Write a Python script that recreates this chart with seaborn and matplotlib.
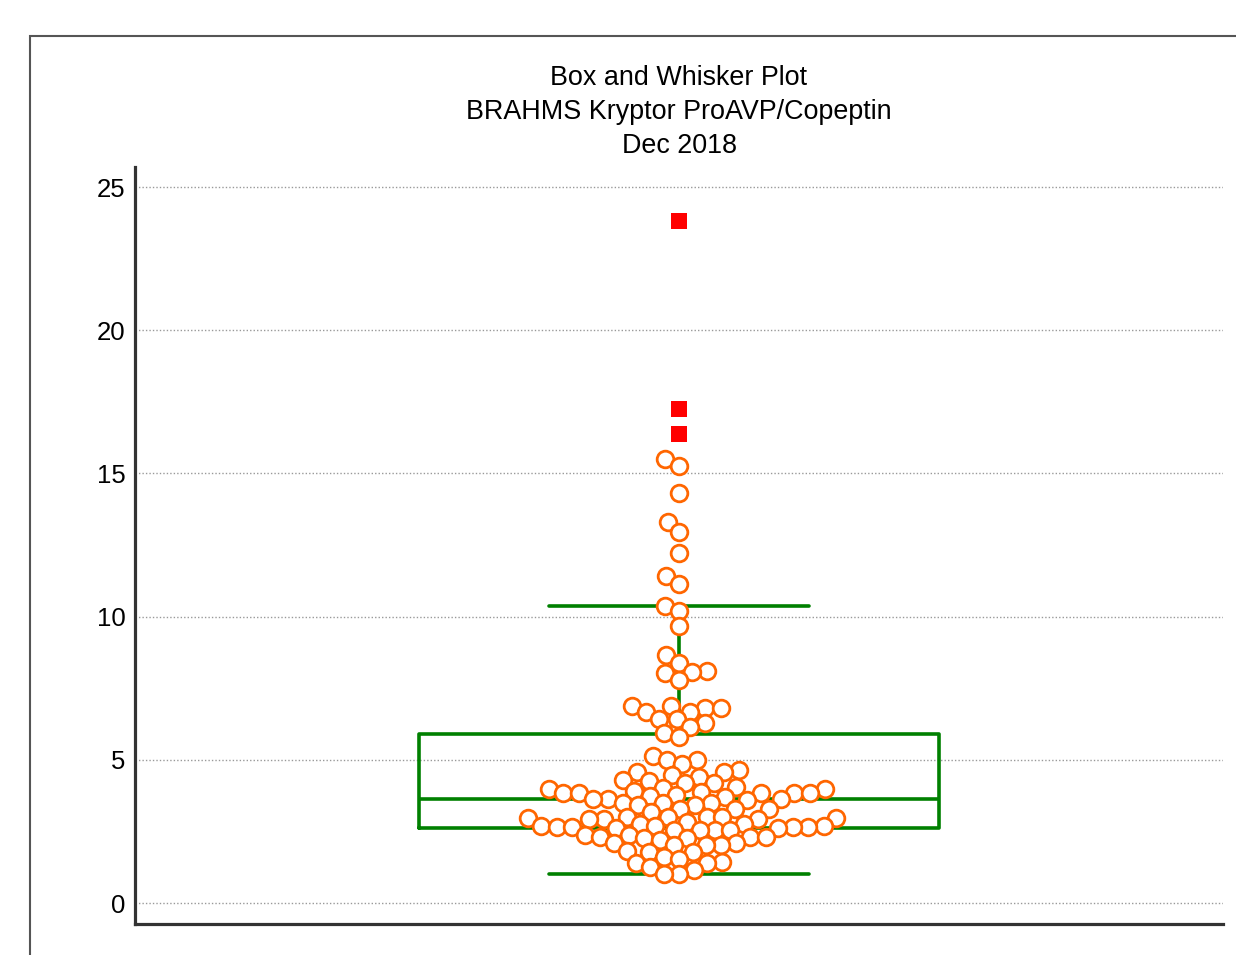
import pandas as pd
import seaborn as sns
from matplotlib import pyplot as plt
from matplotlib.patches import Rectangle

# values (swarm points)
high_values = [15.50, 15.26, 14.32, 13.30, 12.95, 12.22, 11.42, 11.14, 10.37, 10.20,
               9.67, 8.66, 8.38, 8.10, 8.07, 8.03, 7.79]
upper_values = [6.88, 6.88, 6.81, 6.81, 6.67, 6.67, 6.42, 6.42, 6.28, 6.15, 5.94, 5.80]
middle_values = [5.13, 4.99, 4.99, 4.85, 4.64, 4.57, 4.57, 4.47, 4.40, 4.29, 4.26, 4.19,
                 4.19, 4.05, 4.02, 3.98, 3.98, 3.91, 3.88, 3.84, 3.84, 3.84, 3.84, 3.84,
                 3.77, 3.74, 3.70, 3.63, 3.63, 3.63, 3.60]
lower_values = [3.49, 3.49, 3.49, 3.42, 3.42, 3.28, 3.28, 3.28, 3.18,
                3.00, 3.00, 3.00, 3.00, 2.97, 2.97, 2.93, 2.93, 2.93, 2.83, 2.76, 2.76,
                2.69, 2.69, 2.69, 2.65, 2.65, 2.65, 2.65, 2.62, 2.62, 2.55, 2.55, 2.55, 2.55,
                2.37, 2.37, 2.30, 2.30, 2.30, 2.27, 2.27, 2.20,
                2.09, 2.09, 2.02, 2.02, 2.02,
                1.81, 1.78, 1.78, 1.61, 1.54, 1.43, 1.40, 1.40, 1.26, 1.15, 1.01, 1.01]
# far out values (red squares)
far_out = [23.81, 17.25, 16.38]

yticks = [0, 5, 10, 15, 20, 25]
title_lines = ["Box and Whisker Plot", "BRAHMS Kryptor ProAVP/Copeptin", "Dec 2018"]


def main():
    sns.set_style("white")
    plt.rcParams['font.family'] = ['Liberation Sans', 'DejaVu Sans']

    swarm = pd.Series(high_values + upper_values + middle_values + lower_values)
    everything = pd.concat([swarm, pd.Series(far_out)], ignore_index=True)

    fig = plt.figure(figsize=(12.36, 9.55), dpi=100)
    ax = fig.add_axes([135 / 1236, 1 - 924 / 955, (1223 - 135) / 1236, (924 - 167) / 955])

    sns.boxplot(y=everything, ax=ax, width=0.956, fill=False, color="#008000",
                linewidth=2.6, showfliers=False, zorder=2)
    # lay the swarm out with slightly smaller markers so the circles overlap a bit
    sns.swarmplot(y=swarm, ax=ax, size=9.5, color="white", edgecolor="#ff6600",
                  linewidth=1, zorder=3)
    dots = ax.collections[-1]
    sns.stripplot(y=far_out, ax=ax, jitter=False, marker="s", size=11,
                  color="#ff0000", linewidth=0, zorder=4)

    ax.set_xlim(-1, 1)
    ax.set_ylim(-0.73, 25.7)
    ax.set_yticks(yticks)
    ax.set_xticks([])
    ax.set_xlabel("")
    ax.set_ylabel("")
    ax.yaxis.grid(True, linestyle=(0, (1, 1.5)), color="#999999", linewidth=1)
    ax.set_axisbelow(True)
    ax.tick_params(axis="y", direction="in", length=12, width=2.3, color="#333333",
                   labelsize=18.5, labelcolor="black", pad=7)
    for side in ["top", "right"]:
        ax.spines[side].set_visible(False)
    for side in ["left", "bottom"]:
        ax.spines[side].set_color("#333333")
        ax.spines[side].set_linewidth(2.3)

    ax.text(0.5, 1.0726, "\n".join(title_lines), transform=ax.transAxes,
            ha="center", va="center", fontsize=19.4, color="black", linespacing=1.42)

    # outer frame of the chart window
    fig.patches.append(Rectangle((30 / 1236, -0.1), 1.1, 1.1 - 36 / 955,
                                 transform=fig.transFigure, fill=False,
                                 edgecolor="#555555", linewidth=1.5))

    # fix the swarm positions, then draw the circles at full size
    fig.canvas.draw()
    if "draw" in vars(dots):
        del dots.draw
    dots.set_sizes([12 ** 2])
    dots.set_linewidth(2.0)

    fig.savefig("out.png", dpi=100)


if __name__ == '__main__':
    main()
